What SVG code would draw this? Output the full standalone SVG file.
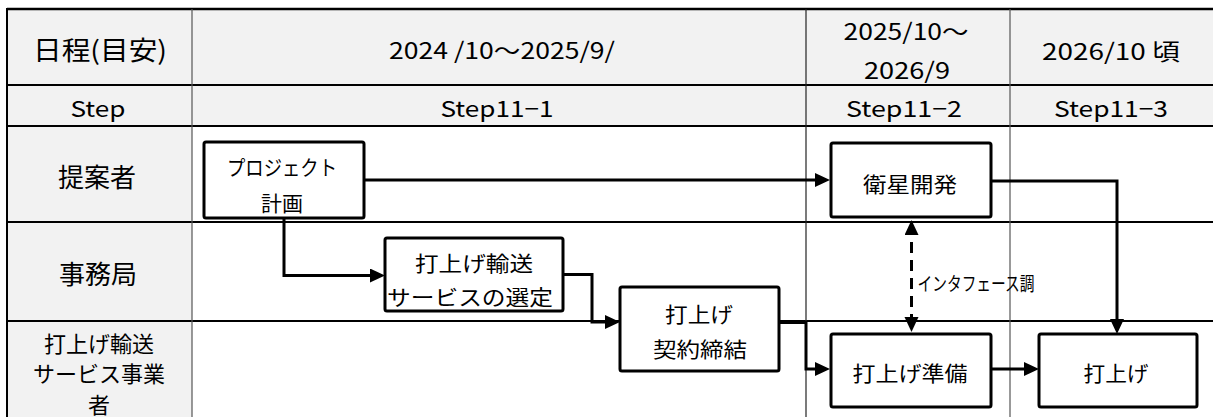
<svg xmlns="http://www.w3.org/2000/svg" width="1213" height="417" viewBox="0 0 1213 417">
<defs>
<style>
text{font-family:"Noto Sans CJK JP","Noto Sans CJK SC",sans-serif;fill:#000;text-anchor:middle;dominant-baseline:central}
.hd{font-size:23px}
.st{font-size:22px}
.ln{font-size:26px}
.ln2{font-size:22px}
.nd{font-size:21px}
.box{fill:#fff;stroke:#000;stroke-width:3}
.con{fill:none;stroke:#000;stroke-width:3}
.dash{fill:none;stroke:#000;stroke-width:3;stroke-dasharray:11 7}
.hl{stroke:#000;stroke-width:2}
.vg{stroke:#555;stroke-width:1.2}
</style>
<marker id="arr" markerUnits="userSpaceOnUse" markerWidth="16" markerHeight="15" refX="11" refY="7" orient="auto-start-reverse">
<path d="M0,0 L15,7 L0,14 z" fill="#000"/>
</marker>
</defs>
<g id="grid">
<rect x="7" y="9" width="1206" height="117" fill="#f2f2f2"/>
<rect x="7" y="126" width="185" height="291" fill="#f2f2f2"/>
<line x1="7" y1="9" x2="1213" y2="9" stroke="#000" stroke-width="2.5"/>
<line class="hl" x1="7" y1="85" x2="1213" y2="85"/>
<line class="hl" x1="7" y1="126" x2="1213" y2="126"/>
<line class="hl" x1="7" y1="222" x2="1213" y2="222"/>
<line class="hl" x1="7" y1="321" x2="1213" y2="321"/>
<line x1="7" y1="8" x2="7" y2="417" stroke="#000" stroke-width="2"/>
<line class="vg" x1="192" y1="9" x2="192" y2="417"/>
<line x1="806" y1="9" x2="806" y2="417" stroke="#222" stroke-width="1.2"/>
<line class="vg" x1="1010" y1="9" x2="1010" y2="417"/>
</g>
<g id="headers">
<text class="ln" x="100" y="48" textLength="134" lengthAdjust="spacingAndGlyphs">日程(目安)</text>
<text class="hd" x="502" y="49" textLength="226" lengthAdjust="spacingAndGlyphs">2024 /10～2025/9/</text>
<text class="hd" x="906" y="30" textLength="125" lengthAdjust="spacingAndGlyphs">2025/10～</text>
<text class="hd" x="907" y="69" textLength="86" lengthAdjust="spacingAndGlyphs">2026/9</text>
<text class="hd" x="1111" y="50" textLength="138" lengthAdjust="spacingAndGlyphs">2026/10 頃</text>
<text class="st" x="98" y="107" textLength="55" lengthAdjust="spacingAndGlyphs">Step</text>
<text class="st" x="497" y="107" textLength="113" lengthAdjust="spacingAndGlyphs">Step11−1</text>
<text class="st" x="904" y="107" textLength="116" lengthAdjust="spacingAndGlyphs">Step11−2</text>
<text class="st" x="1111" y="107" textLength="114" lengthAdjust="spacingAndGlyphs">Step11−3</text>
</g>
<g id="lanes">
<text class="ln" x="97" y="175">提案者</text>
<text class="ln" x="98" y="272">事務局</text>
<text class="ln2" x="99" y="342">打上げ輸送</text>
<text class="ln2" x="99" y="372">サービス事業</text>
<text class="ln2" x="99" y="403">者</text>
</g>
<g id="connectors">
<path class="con" d="M364,180 H826" marker-end="url(#arr)"/>
<path class="con" d="M284,218 V275.5 H381" marker-end="url(#arr)"/>
<path class="con" d="M563,274.5 H592 V322 H616" marker-end="url(#arr)"/>
<path class="con" d="M780,322.5 H806 V369 H826" marker-end="url(#arr)"/>
<path class="con" d="M991,181 H1117 V330" marker-end="url(#arr)"/>
<path class="con" d="M991,369 H1035" marker-end="url(#arr)"/>
<path class="dash" d="M911.5,224 V328" marker-start="url(#arr)" marker-end="url(#arr)"/>
<text x="976" y="282" style="font-size:19px" textLength="117" lengthAdjust="spacingAndGlyphs">インタフェース調</text>
</g>
<g id="n1"><rect class="box" x="204" y="142" width="160" height="76" rx="2"/>
<text class="nd" x="282" y="166" textLength="110" lengthAdjust="spacingAndGlyphs">プロジェクト</text><text class="nd" x="282" y="202">計画</text></g>
<g id="n2"><rect class="box" x="831" y="143" width="160" height="74" rx="2"/>
<text class="nd" x="910" y="183" textLength="94" lengthAdjust="spacingAndGlyphs">衛星開発</text></g>
<g id="n3"><rect class="box" x="385" y="238" width="178" height="73" rx="2"/>
<text class="nd" x="474" y="262" textLength="118" lengthAdjust="spacingAndGlyphs">打上げ輸送</text><text class="nd" x="470" y="296" textLength="166" lengthAdjust="spacingAndGlyphs">サービスの選定</text></g>
<g id="n4"><rect class="box" x="620" y="287" width="159" height="84" rx="2"/>
<text class="nd" x="699" y="313" textLength="68" lengthAdjust="spacingAndGlyphs">打上げ</text><text class="nd" x="700" y="348" textLength="94" lengthAdjust="spacingAndGlyphs">契約締結</text></g>
<g id="n5"><rect class="box" x="831" y="334" width="160" height="73" rx="2"/>
<text class="nd" x="910" y="372" textLength="115" lengthAdjust="spacingAndGlyphs">打上げ準備</text></g>
<g id="n6"><rect class="box" x="1039" y="334" width="158" height="73" rx="2"/>
<text class="nd" x="1116" y="372" textLength="65" lengthAdjust="spacingAndGlyphs">打上げ</text></g>
</svg>
